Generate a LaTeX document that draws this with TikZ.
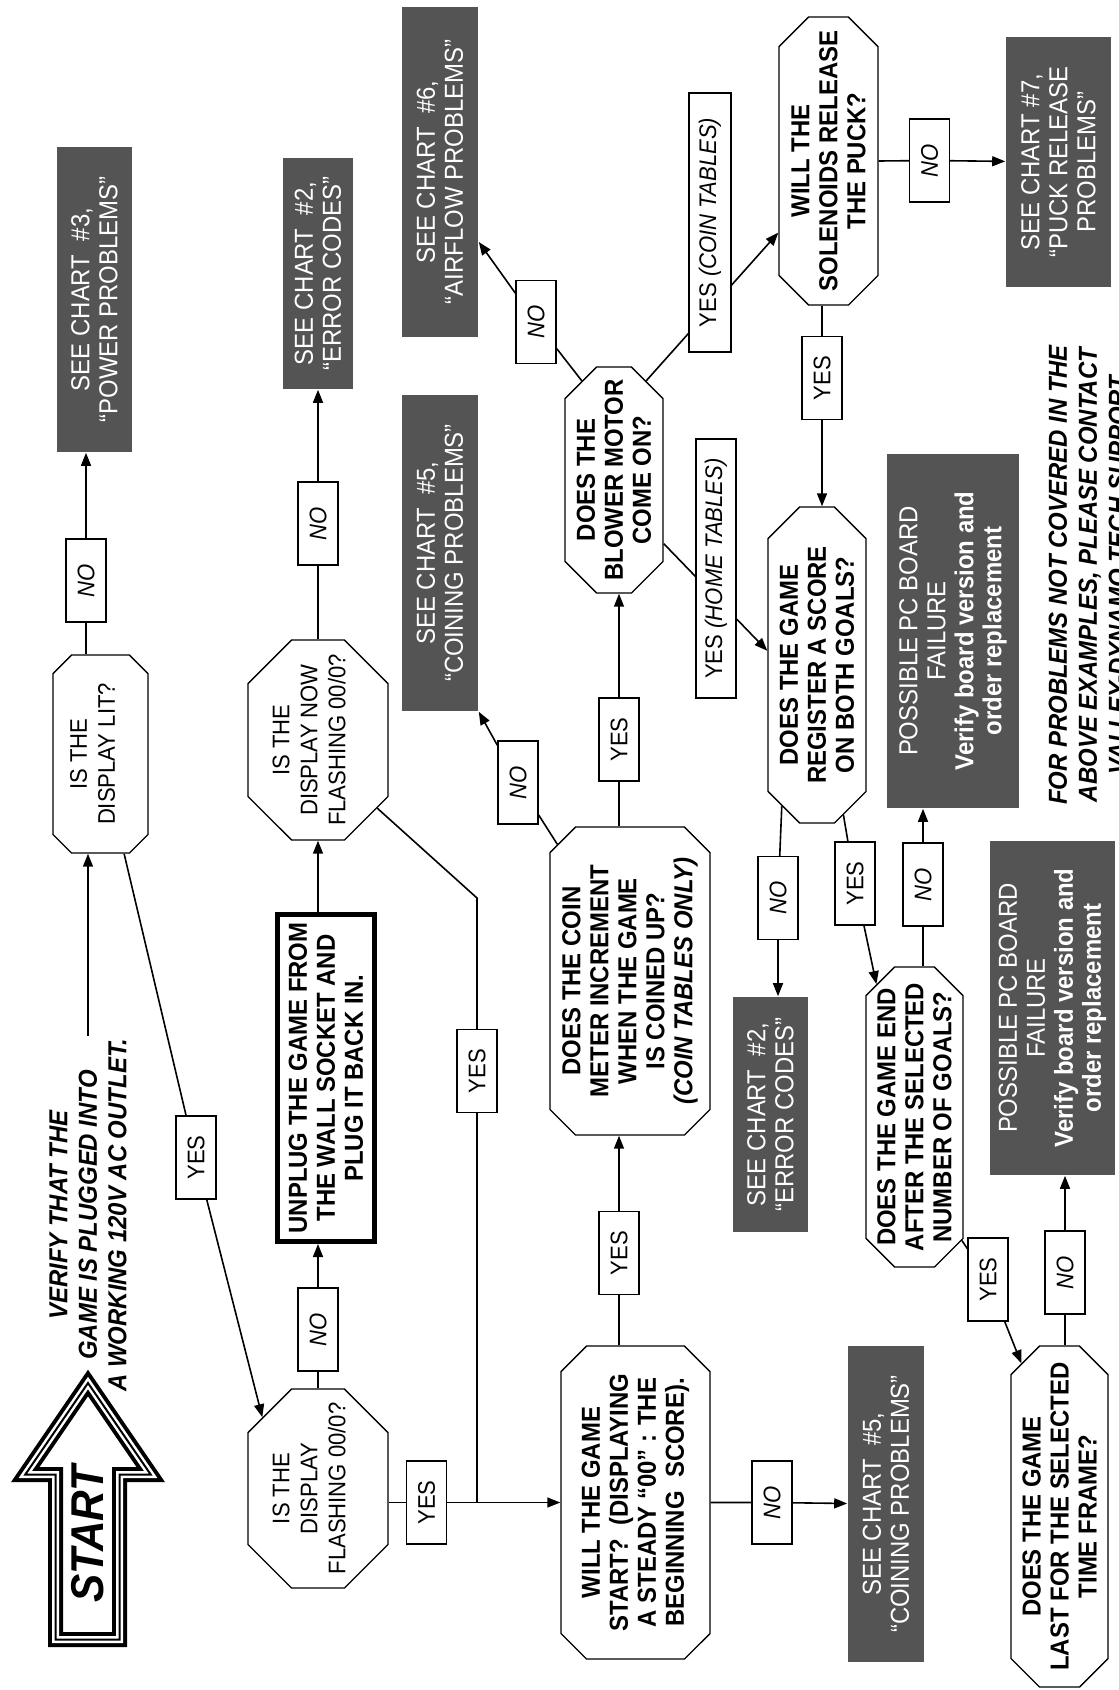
\documentclass[tikz,border=0pt]{standalone}
\usepackage{fontspec}
\setmainfont{Liberation Sans}[FakeStretch=0.92]
\usetikzlibrary{shapes.misc,arrows.meta}
\definecolor{chartgrey}{RGB}{84,84,84}
\begin{document}
\begin{tikzpicture}[x=1pt, y=-1pt, line width=1.6pt,
  txt/.style={rotate=90, align=center, inner sep=2pt,
    font=\fontsize{26}{28}\selectfont},
  heavy/.style={font=\fontsize{26}{28}\selectfont\bfseries},
  light/.style={font=\fontsize{24}{28}\selectfont},
  ask/.style={txt, draw, line width=1.4pt, chamfered rectangle,
    chamfered rectangle xsep=#1, inner xsep={3pt-#1}},
  ask/.default=26pt,
  seechart/.style={txt, fill=chartgrey, text=white},
  lbl/.style={txt, draw, fill=white, line width=1.3pt,
    font=\fontsize{24}{28}\selectfont, minimum width=83pt, minimum height=40pt},
  arr/.style={-{Triangle[length=13pt,width=10pt]}}]
  \path[use as bounding box, fill=white] (0,0) rectangle (1119,1690);

  \foreach \w/\col in {15/black,7/white,2/black}
    \draw[line width=\w, \col] (88,1383) -- (150.7,1474.5) -- (119.5,1474.5)
      -- (119.5,1639.5) -- (55.5,1639.5) -- (55.5,1474.5) -- (25.3,1474.5) -- cycle;
  \node[txt, font=\fontsize{46}{46}\selectfont\bfseries\itshape] (start) at (88,1534) {START};
  \node[txt, font=\fontsize{26}{29.5}\selectfont\bfseries\itshape] (verify) at (88,1215)
    {VERIFY THAT THE\\GAME IS PLUGGED INTO\\A WORKING 120V AC OUTLET.};

  \node[ask=15pt, light, minimum width=198pt, minimum height=95pt] (lit) at (100.5,754)
    {IS THE\\DISPLAY LIT?\\[-12pt]\mbox{}};
  \node[ask=40pt, light, minimum width=200pt, minimum height=140pt] (nowflash) at (318,740)
    {IS THE\\DISPLAY NOW\\FLASHING 00/0?\\[-10pt]\mbox{}};
  \node[ask=40pt, light, minimum width=199pt, minimum height=140pt] (flash) at (318,1488.5)
    {IS THE\\DISPLAY\\FLASHING 00/0?\\[-10pt]\mbox{}};
  \node[txt, heavy, draw, line width=5pt, minimum width=327pt, minimum height=97pt] (unplug) at (326,1078)
    {UNPLUG THE GAME FROM\\THE WALL SOCKET AND\\PLUG IT BACK IN.};
  \node[ask=22pt, heavy, minimum width=313pt, minimum height=149pt] (willstart) at (635.5,1502.5)
    {WILL THE GAME\\START?~ (DISPLAYING\\A STEADY “00” : THE\\BEGINNING~ SCORE).};
  \node[ask=22pt, heavy, minimum width=308pt, minimum height=160pt] (coin) at (630,981)
    {DOES THE COIN\\METER INCREMENT\\WHEN THE GAME\\IS COINED UP?\\\textit{(COIN TABLES ONLY)}};
  \node[ask=28pt, heavy, minimum width=226pt, minimum height=98pt] (blower) at (614,480)
    {DOES THE\\BLOWER MOTOR\\COME ON?};
  \node[ask, heavy, minimum width=288pt, minimum height=99pt] (solen) at (828.5,161)
    {WILL THE\\SOLENOIDS RELEASE\\THE PUCK?};
  \node[ask=28pt, heavy, minimum width=316pt, minimum height=98pt] (score) at (817,665)
    {DOES THE GAME\\REGISTER A SCORE\\ON BOTH GOALS?};
  \node[ask=25pt, heavy, minimum width=300pt, minimum height=97pt] (endg) at (914.5,1117)
    {DOES THE GAME END\\AFTER THE SELECTED\\NUMBER OF GOALS?};
  \node[ask=25pt, heavy, minimum width=341pt, minimum height=97pt] (timef) at (1059.5,1516.5)
    {DOES THE GAME\\LAST FOR THE SELECTED\\TIME FRAME?};

  \node[seechart, minimum width=305pt, minimum height=75pt] (chart3) at (94.5,299.5)
    {SEE CHART~ \#3,\\“POWER PROBLEMS”};
  \node[seechart, minimum width=231pt, minimum height=70pt] (chart2a) at (318,273.5)
    {SEE CHART~ \#2,\\“ERROR CODES”};
  \node[seechart, minimum width=316pt, minimum height=76pt] (chart5a) at (440,553)
    {SEE CHART~ \#5,\\“COINING PROBLEMS”};
  \node[seechart, minimum width=330pt, minimum height=76pt] (chart6) at (440,172)
    {SEE CHART~ \#6,\\“AIRFLOW PROBLEMS”};
  \node[seechart, minimum width=250pt, minimum height=105pt] (chart7) at (1058.5,162)
    {SEE CHART \#7,\\“PUCK RELEASE\\PROBLEMS”};
  \node[seechart, minimum width=235pt, minimum height=75pt] (chart2b) at (770.5,1114.5)
    {SEE CHART~ \#2,\\“ERROR CODES”};
  \node[seechart, minimum width=316pt, minimum height=76pt] (chart5b) at (886,1504)
    {SEE CHART~ \#5,\\“COINING PROBLEMS”};
  \node[seechart, minimum width=354pt, minimum height=132pt] (pc1) at (953,631)
    {POSSIBLE PC BOARD\\FAILURE\\\textbf{Verify board version and}\\\textbf{order replacement}};
  \node[seechart, minimum width=334pt, minimum height=125pt] (pc2) at (1052.5,1008)
    {POSSIBLE PC BOARD\\FAILURE\\\textbf{Verify board version and}\\\textbf{order replacement}};
  \node[txt, font=\fontsize{26}{30}\selectfont\bfseries\itshape] (footer) at (1088,575)
    {FOR PROBLEMS NOT COVERED IN THE\\ABOVE EXAMPLES, PLEASE CONTACT\\VALLEY-DYNAMO TECH SUPPORT};

  \node[lbl] (l1) at (86,580.5) {\textit{NO}};
  \node[lbl] (l2) at (318,523.5) {\textit{NO}};
  \node[lbl] (l3) at (196,1157.5) {YES};
  \node[lbl] (l4) at (318,1329.5) {\textit{NO}};
  \node[lbl] (l5) at (477,1071) {YES};
  \node[lbl] (l6) at (426.5,1502.5) {YES};
  \node[lbl] (l7) at (772,1502.5) {\textit{NO}};
  \node[lbl] (l8) at (619,1253) {YES};
  \node[lbl] (l9) at (518,782.5) {\textit{NO}};
  \node[lbl] (l10) at (619,739.5) {YES};
  \node[lbl] (l11) at (536,322) {\textit{NO}};
  \node[lbl] (l13) at (929.5,160.5) {\textit{NO}};
  \node[lbl] (l14) at (822,378) {YES};
  \node[lbl] (l16) at (778,898) {\textit{NO}};
  \node[lbl] (l17) at (855,883.5) {YES};
  \node[lbl] (l18) at (923,884.5) {\textit{NO}};
  \node[lbl] (l19) at (988,1279.5) {YES};
  \node[lbl] (l20) at (1065,1272.5) {\textit{NO}};
  \coordinate (bend) at (477,898);

  \draw[arr] (verify.east) -- (verify.east |- lit.west);
  \draw (lit.east -| l1) -- (l1);
  \draw[arr] (l1) -- (l1 |- chart3.west);
  \draw (lit) -- (l3);
  \draw[arr] (l3) -- (flash.38);
  \draw (flash.east) -- (l4);
  \draw[arr] (l4) -- (unplug.west -| l4);
  \draw[arr] (unplug.east -| nowflash) -- (nowflash.west);
  \draw (nowflash.east) -- (l2);
  \draw[arr] (l2) -- (chart2a);
  \draw (nowflash.221) -- (bend) -- (l5);
  \draw (l5) -- (l5 |- l6);
  \draw (flash.south |- l6) -- (l6);
  \draw[arr] (l6) -- (willstart);
  \draw (willstart) -- (l7);
  \draw[arr] (l7) -- (chart5b);
  \draw (willstart.east -| l8) -- (l8);
  \draw[arr] (l8) -- (l8 |- coin.west);
  \draw (coin.28) -- (l9);
  \draw[arr] (l9) -- (chart5a.south west);
  \draw (coin.east -| l10) -- (l10);
  \draw[arr] (l10) -- (l10 |- blower.west);
  \draw (blower.18) -- (l11);
  \draw[arr] (l11) -- (chart6.209);
  \draw[arr] (blower.-18) -- (solen.145);
  \draw[arr] (blower.218) -- (score.74);
  \draw (solen.south) -- (l13);
  \draw[arr] (l13) -- (chart7);
  \draw (solen.west -| l14) -- (l14);
  \draw[arr] (l14) -- (l14 |- score.east);
  \draw (score.166) -- (l16);
  \draw[arr] (l16) -- (l16 |- chart2b.east);
  \draw (score.190) -- (l17);
  \draw[arr] (l17) -- (endg.16);
  \draw (endg.east -| l18) -- (l18);
  \draw[arr] (l18) -- (l18 |- pc1.west);
  \draw (endg.201) -- (l19);
  \draw[arr] (l19) -- (timef.14);
  \draw (timef.east -| l20) -- (l20);
  \draw[arr] (l20) -- (l20 |- pc2.west);

  \node[lbl, minimum width=259pt, minimum height=42pt] (l12) at (710,222.5) {YES \textit{(COIN TABLES)}};
  \node[lbl, minimum width=259pt] (l15) at (716,568.5) {YES \textit{(HOME TABLES)}};
\end{tikzpicture}
\end{document}
